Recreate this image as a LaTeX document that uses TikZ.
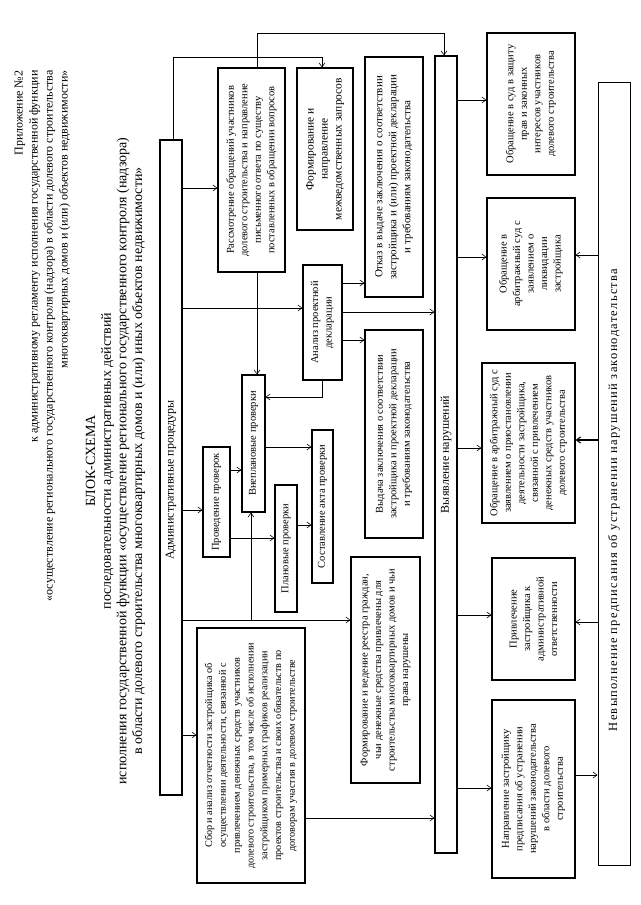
\documentclass[tikz,border=0pt]{standalone}
\usepackage{fontspec}
\setmainfont{Liberation Serif}
\usetikzlibrary{arrows.meta}
\begin{document}
\begin{tikzpicture}[x=1pt,y=-1pt,
  bx/.style={draw, line width=1.3pt, rotate=90, align=center, inner sep=2pt, font=\fontsize{10.5}{13.5}\selectfont},
  lbl/.style={rotate=90, inner sep=0pt},
  ar/.style={line width=0.6pt, -{Straight Barb[length=4pt,width=6pt]}},
  hdr/.style={rotate=90, font=\fontsize{12}{15}\selectfont},
  ttl/.style={rotate=90, font=\fontsize{14}{15.7}\selectfont},
]
\useasboundingbox (0,0) rectangle (640,905);
\fill[white] (0,0) rectangle (640,905);

% header and title
\node[hdr, anchor=east, align=right] (header) at (42.5,67)
 {Приложение №2\\к административному регламенту исполнения государственной функции\\«осуществление регионального государственного контроля (надзора) в области долевого строительства\\многоквартирных домов и (или) объектов недвижимости»};
\node[ttl, align=center] (title) at (115.5,461)
 {БЛОК-СХЕМА\\последовательности административных действий\\исполнения государственной функции «осуществление регионального государственного контроля (надзора)\\в области долевого строительства многоквартирных домов и (или) иных объектов недвижимости»};

% boxes
\node[bx, minimum width=655, minimum height=22] (admin) at (171,467.5) {};
\node[lbl, font=\fontsize{12}{13}\selectfont] (adminlbl) at (171,480) {Административные процедуры};
\node[bx, minimum width=204, minimum height=67] (rassm) at (251.5,170)
 {Рассмотрение обращений участников\\долевого строительства и направление\\письменного ответа по существу\\поставленных в обращении вопросов};
\node[bx, minimum width=162, minimum height=56, font=\fontsize{11.5}{14}\selectfont] (form) at (325,149)
 {Формирование и\\направление\\межведомственных запросов};
\node[bx, minimum width=115, minimum height=39] (analiz) at (322.5,322.5)
 {Анализ проектной\\декларации};
\node[bx, minimum width=137, minimum height=23] (vnepl) at (253.5,443.5) {Внеплановые проверки};
\node[bx, minimum width=110, minimum height=27] (proved) at (216.5,502) {Проведение проверок};
\node[bx, minimum width=127, minimum height=22] (planov) at (286,548.5) {Плановые проверки};
\node[bx, minimum width=153, minimum height=21] (sostav) at (322.5,506.5) {Составление акта проверки};
\node[bx, minimum width=255, minimum height=108, font=\fontsize{10.2}{13.8}\selectfont] (sbor) at (251,755.5)
 {Сбор и анализ отчетности застройщика об\\осуществлении деятельности, связанной с\\привлечением денежных средств участников\\долевого строительства, в том числе об исполнении\\застройщиком примерных графиков реализации\\проектов строительства и своих обязательств по\\договорам участия в долевом строительстве};
\node[bx, minimum width=226, minimum height=69] (reestr) at (385.5,670)
 {Формирование и ведение реестра граждан,\\чьи денежные средства привлечены для\\строительства многоквартирных домов и чьи\\права нарушены};
\node[bx, minimum width=240, minimum height=58, font=\fontsize{11}{14}\selectfont] (otkaz) at (394,177)
 {Отказ в выдаче заключения о соответствии\\застройщика и (или) проектной декларации\\и требованиям законодательства};
\node[bx, minimum width=208, minimum height=58] (vydacha) at (394,434)
 {Выдача заключения о соответствии\\застройщика и проектной декларации\\и требованиям законодательства};
\node[bx, minimum width=797, minimum height=22, font=\fontsize{12}{13}\selectfont] (vyyav) at (446,454.5) {Выявление нарушений};
\node[bx, minimum width=142, minimum height=88] (sud) at (531,104)
 {Обращение в суд в защиту\\прав и законных\\интересов участников\\долевого строительства};
\node[bx, minimum width=132, minimum height=88] (likv) at (531,264)
 {Обращение в\\арбитражный суд с\\заявлением о\\ликвидации\\застройщика};
\node[bx, minimum width=160, minimum height=93] (priost) at (528.5,443)
 {Обращение в арбитражный суд с\\заявлением о приостановлении\\деятельности застройщика,\\связанной с привлечением\\денежных средств участников\\долевого строительства};
\node[bx, minimum width=122, minimum height=83] (privl) at (533.5,619)
 {Привлечение\\застройщика к\\административной\\ответственности};
\node[bx, minimum width=178, minimum height=83] (naprav) at (533.5,789)
 {Направление застройщику\\предписания об устранении\\нарушений законодательства\\в области долевого\\строительства};
\node[bx, line width=1pt, minimum width=783, minimum height=32] (nevyp) at (614,473.5) {};
\node[lbl, font=\fontsize{12.5}{13}\addfontfeatures{LetterSpace=10}\selectfont] (nevyplbl) at (614,500)
 {Невыполнение предписания об устранении нарушений законодательства};

% connectors from administrative procedures
\draw[ar] (admin.east -| 173,0) -- (173,57) -| (form.east -| 322,0);
\draw[ar] (admin.south |- 0,188) -- (rassm.north |- 0,188);
\draw[ar] (admin.south |- 0,308) -- (analiz.north |- 0,308);
\draw[ar] (admin.south |- 0,510) -- (proved.north |- 0,510);
\draw[ar] (admin.south |- 0,620) -- (reestr.north |- 0,620);
\coordinate (br) at (251,620);
\draw[ar] (br) -- (vnepl.west -| br);
\draw[ar] (admin.south |- 0,735) -- (sbor.north |- 0,735);

% review of appeals
\draw[ar] (rassm.east -| 257,0) -- (257,33) -| (vyyav.east -| 444,0);
\draw[ar] (rassm.west -| 257,0) -- (vnepl.east -| 257,0);

% analysis
\draw[ar] (analiz.west) |- (vnepl.south |- 0,397);
\draw[ar] (analiz.south |- 0,283) -- (otkaz.north |- 0,283);
\draw[ar] (analiz.south |- 0,312) -- (vyyav.north |- 0,312);
\draw[ar] (analiz.south |- 0,340) -- (vydacha.north |- 0,340);

% inspections
\draw[ar] (vnepl.south |- 0,447) -- (sostav.north |- 0,447);
\draw[ar] (proved.south |- 0,470) -- (vnepl.north |- 0,470);
\draw[ar] (proved.south |- 0,538) -- (planov.north |- 0,538);
\draw[ar] (planov.south |- 0,525) -- (sostav.north |- 0,525);

% reporting
\draw[ar] (sbor.south |- 0,818) -- (vyyav.north |- 0,818);

% detection of violations
\draw[ar] (vyyav.south |- 0,100) -- (sud.north |- 0,100);
\draw[ar] (vyyav.south |- 0,257) -- (likv.north |- 0,257);
\draw[ar] (vyyav.south |- 0,448) -- (priost.north |- 0,448);
\draw[ar] (vyyav.south |- 0,615) -- (privl.north |- 0,615);
\draw[ar] (vyyav.south |- 0,788) -- (naprav.north |- 0,788);

% non-fulfilment
\draw[ar] (nevyp.north |- 0,255) -- (likv.south |- 0,255);
\draw[ar, line width=1.1pt] (nevyp.north |- 0,440) -- (priost.south |- 0,440);
\draw[ar] (nevyp.north |- 0,622) -- (privl.south |- 0,622);
\draw[ar] (naprav.south |- 0,775) -- (nevyp.north |- 0,775);
\end{tikzpicture}
\end{document}
